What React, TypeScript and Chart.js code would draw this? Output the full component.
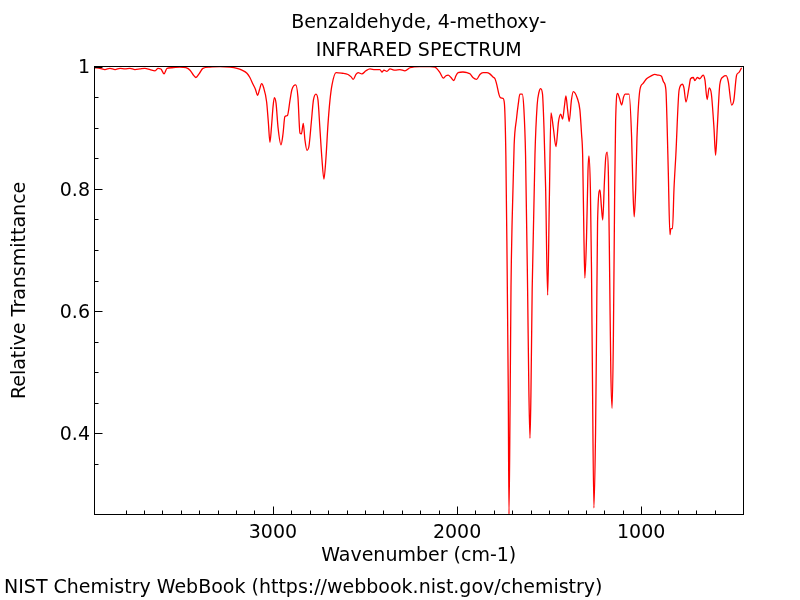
import React, { useEffect, useRef } from "react";
import { Chart, registerables } from "chart.js";

Chart.register(...registerables);

// ---- data (wavenumber in cm-1, descending) ----
const wavenumbers = [
  3966, 3939, 3912, 3885, 3857, 3830, 3803, 3776, 3749, 3722, 3695, 3667, 3640, 3624, 3608, 3591, 3575, 3548, 3505, 3472,
  3450, 3429, 3418, 3401, 3380, 3342, 3287, 3233, 3195, 3168, 3141, 3125, 3108, 3095, 3083, 3073, 3061, 3051, 3034, 3025,
  3016, 3008, 2999, 2992, 2983, 2972, 2956, 2945, 2935, 2921, 2907, 2897, 2876, 2864, 2853, 2845, 2835, 2826, 2815, 2804,
  2791, 2780, 2766, 2755, 2745, 2734, 2723, 2712, 2701, 2690, 2679, 2657, 2625, 2592, 2575, 2564, 2549, 2537, 2517, 2495,
  2473, 2446, 2419, 2408, 2397, 2381, 2364, 2337, 2310, 2283, 2256, 2202, 2147, 2120, 2093, 2075, 2060, 2048, 2033, 2017,
  2006, 1994, 1968, 1946, 1930, 1914, 1894, 1876, 1859, 1839, 1822, 1805, 1794, 1784, 1773, 1765, 1751, 1743, 1735, 1729,
  1722, 1718, 1712, 1707, 1701, 1690, 1677, 1667, 1659, 1646, 1637, 1628, 1617, 1610, 1604, 1599, 1592, 1577, 1565, 1555,
  1546, 1536, 1528, 1519, 1508, 1499, 1490, 1477, 1463, 1449, 1437, 1427, 1417, 1409, 1400, 1391, 1379, 1369, 1347, 1333,
  1324, 1318, 1311, 1306, 1297, 1289, 1284, 1276, 1270, 1265, 1257, 1248, 1243, 1237, 1224, 1216, 1209, 1200, 1193, 1185,
  1178, 1171, 1165, 1158, 1151, 1144, 1139, 1128, 1118, 1106, 1096, 1088, 1066, 1052, 1045, 1038, 1030, 1023, 1007, 991,
  971, 944, 926, 909, 890, 879, 866, 859, 853, 844, 839, 830, 822, 812, 794, 777, 768, 757, 741, 732,
  717, 709, 695, 682, 664, 654, 642, 631, 619, 605, 596, 587, 573, 556, 539, 527, 509, 497, 482, 470,
  455,
];

const transmittance = [
  0.998, 0.997, 0.995, 0.997, 0.995, 0.997, 0.996, 0.997, 0.995, 0.996, 0.997, 0.995, 0.993, 0.997, 0.996, 0.988, 0.997, 0.998, 0.999, 0.998,
  0.994, 0.985, 0.982, 0.988, 0.997, 0.999, 1.0, 0.999, 0.997, 0.994, 0.989, 0.982, 0.971, 0.963, 0.953, 0.962, 0.972, 0.966, 0.942, 0.91,
  0.876, 0.9, 0.935, 0.949, 0.94, 0.9, 0.872, 0.89, 0.918, 0.92, 0.945, 0.962, 0.97, 0.95, 0.891, 0.89, 0.907, 0.88, 0.863, 0.87,
  0.91, 0.945, 0.955, 0.945, 0.9, 0.85, 0.816, 0.85, 0.905, 0.945, 0.97, 0.99, 0.989, 0.987, 0.983, 0.979, 0.987, 0.99, 0.988, 0.993,
  0.996, 0.995, 0.995, 0.991, 0.994, 0.992, 0.996, 0.994, 0.995, 0.993, 0.998, 1.0, 1.0, 0.999, 0.99, 0.981, 0.985, 0.986, 0.982, 0.977,
  0.985, 0.99, 0.991, 0.99, 0.988, 0.982, 0.979, 0.987, 0.99, 0.99, 0.988, 0.983, 0.98, 0.97, 0.955, 0.949, 0.948, 0.94, 0.855, 0.7,
  0.474, 0.268, 0.45, 0.64, 0.746, 0.872, 0.915, 0.94, 0.955, 0.955, 0.93, 0.855, 0.637, 0.47, 0.392, 0.46, 0.637, 0.855, 0.937, 0.958,
  0.964, 0.955, 0.9, 0.801, 0.626, 0.78, 0.924, 0.899, 0.869, 0.91, 0.922, 0.914, 0.935, 0.952, 0.93, 0.91, 0.945, 0.959, 0.948, 0.929,
  0.89, 0.855, 0.72, 0.654, 0.72, 0.83, 0.854, 0.8, 0.67, 0.5, 0.278, 0.4, 0.55, 0.746, 0.798, 0.77, 0.749, 0.81, 0.85, 0.86,
  0.82, 0.65, 0.5, 0.441, 0.56, 0.8, 0.91, 0.956, 0.948, 0.937, 0.95, 0.955, 0.955, 0.883, 0.8, 0.754, 0.8, 0.883, 0.962, 0.972,
  0.98, 0.985, 0.987, 0.986, 0.984, 0.975, 0.962, 0.9, 0.828, 0.725, 0.735, 0.735, 0.8, 0.855, 0.962, 0.971, 0.965, 0.942, 0.965, 0.98,
  0.982, 0.977, 0.982, 0.98, 0.986, 0.978, 0.946, 0.965, 0.955, 0.9, 0.855, 0.9, 0.971, 0.983, 0.985, 0.975, 0.937, 0.945, 0.986, 0.99,
  0.998,
];

const xTickLabels = [3000, 2000, 1000];
const yTickLabels = [1, 0.8, 0.6, 0.4];
const titleLines = ["Benzaldehyde, 4-methoxy-", "INFRARED SPECTRUM"];
const xAxisTitle = "Wavenumber (cm-1)";
const yAxisTitle = "Relative Transmittance";
const footerText = "NIST Chemistry WebBook (https://webbook.nist.gov/chemistry)";

const FONT_FAMILY = "'DejaVu Sans', sans-serif";
const FONT_SIZE = 19;

const near = (a: number, b: number) => Math.abs(a - b) < 1e-6;

const innerTicksPlugin = {
  id: "innerTicks",
  afterDraw(chart: any) {
    const { ctx, chartArea: a, scales } = chart;
    const xs = scales.x;
    const ys = scales.y;
    ctx.save();
    ctx.strokeStyle = "#000";
    ctx.lineWidth = 1;
    const L = Math.round(a.left) - 0.5;
    const R = Math.round(a.right) + 0.5;
    const T = Math.round(a.top) - 0.5;
    const B = Math.round(a.bottom) + 0.5;
    ctx.strokeRect(L, T, R - L, B - T);
    ctx.beginPath();
    for (const t of xs.ticks) {
      const v = t.value;
      if (!near(v / 100, Math.round(v / 100))) continue;
      const major = Math.round(v) % 1000 === 0;
      const px = Math.round(xs.getPixelForValue(v)) + 0.5;
      if (px <= L + 1 || px >= R - 1) continue;
      ctx.moveTo(px, B);
      ctx.lineTo(px, B - (major ? 8 : 4));
    }
    for (const t of ys.ticks) {
      const v = t.value;
      const k = Math.round(v * 100);
      if (!near(v * 100, k) || k % 5 !== 0) continue;
      const major = k % 20 === 0;
      const py = Math.round(ys.getPixelForValue(v)) + 0.5;
      if (py <= T + 1 && !major) continue;
      ctx.moveTo(L, py);
      ctx.lineTo(L + (major ? 8 : 4), py);
    }
    ctx.stroke();
    ctx.restore();
  },
};

export default function App() {
  const canvasRef = useRef<HTMLCanvasElement | null>(null);

  useEffect(() => {
    const canvas = canvasRef.current;
    if (!canvas) return;
    const points = wavenumbers.map((w, i) => ({ x: w, y: transmittance[i] }));
    const font = { family: FONT_FAMILY, size: FONT_SIZE, weight: "normal" as const, lineHeight: 1.2 };
    const chart = new Chart(canvas, {
      type: "scatter",
      data: {
        datasets: [
          {
            data: points,
            showLine: true,
            borderColor: "#ff0000",
            borderWidth: 1.3,
            pointRadius: 0,
            pointHoverRadius: 0,
            cubicInterpolationMode: "monotone",
            fill: false,
          },
        ],
      },
      options: {
        animation: false,
        responsive: false,
        devicePixelRatio: 1,
        events: [],
        layout: { padding: { left: 4, right: 57.5, top: 0, bottom: 0 } },
        plugins: {
          legend: { display: false },
          tooltip: { enabled: false },
          title: {
            display: true,
            text: titleLines,
            fullSize: false,
            color: "#000",
            font: { family: FONT_FAMILY, size: FONT_SIZE, weight: "normal", lineHeight: 1.49 },
            padding: { top: 8.5, bottom: 1.4 },
          },
          subtitle: {
            display: true,
            text: footerText,
            position: "bottom",
            align: "start",
            fullSize: true,
            color: "#000",
            font,
            padding: { top: 0, bottom: 0.6 },
          },
        },
        scales: {
          x: {
            type: "linear",
            reverse: true,
            min: 450,
            max: 3966,
            afterFit: (s: any) => {
              s.height = 62.3;
            },
            grid: { display: false, drawTicks: false },
            border: { display: false },
            ticks: {
              stepSize: 100,
              autoSkip: false,
              maxRotation: 0,
              minRotation: 0,
              padding: 7,
              color: "#000",
              font,
              callback: (v: any) => {
                const n = Number(v);
                return xTickLabels.some((t) => near(t, n)) ? String(Math.round(n)) : "";
              },
            },
            title: {
              display: true,
              text: xAxisTitle,
              color: "#000",
              font,
              padding: { top: 0, bottom: 9.2 },
            },
          },
          y: {
            type: "linear",
            min: 0.2676,
            max: 1,
            afterFit: (s: any) => {
              s.width = 91;
            },
            grid: { display: false, drawTicks: false },
            border: { display: false },
            ticks: {
              stepSize: 0.05,
              autoSkip: false,
              padding: 5,
              labelOffset: 2,
              color: "#000",
              font,
              callback: (v: any) => {
                const n = Number(v);
                const hit = yTickLabels.find((t) => near(t, n));
                return hit !== undefined ? String(hit) : "";
              },
            },
            title: {
              display: true,
              text: yAxisTitle,
              color: "#000",
              font,
              padding: { top: 5, bottom: 0 },
            },
          },
        },
      },
      plugins: [innerTicksPlugin],
    } as any);
    return () => chart.destroy();
  }, []);

  return (
    <div style={{ position: "absolute", left: 0, top: 0, width: 800, height: 600, background: "#fff" }}>
      <canvas ref={canvasRef} width={800} height={600} style={{ width: 800, height: 600, display: "block" }} />
    </div>
  );
}
